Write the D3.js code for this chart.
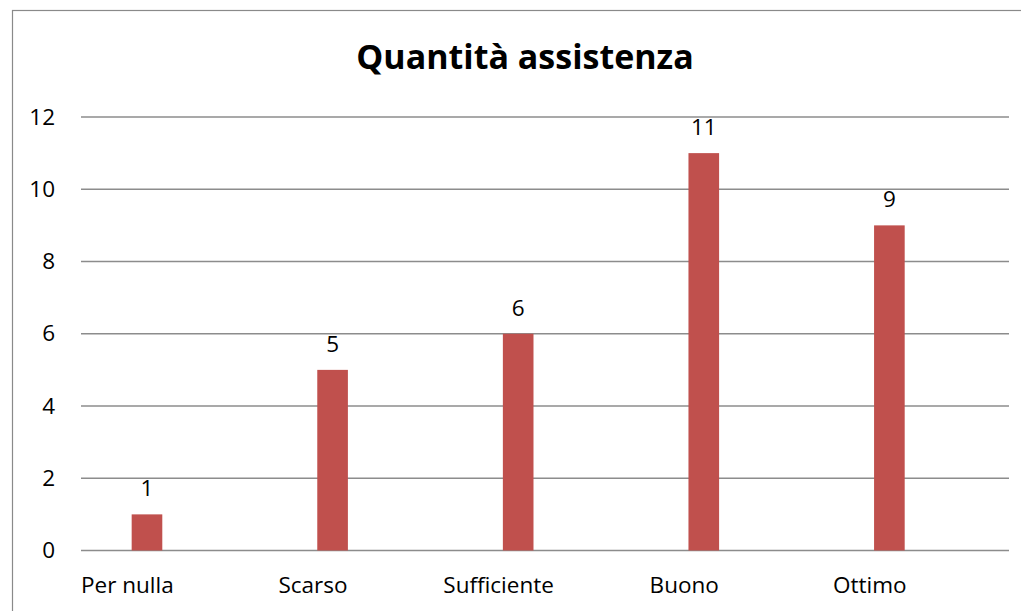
<!DOCTYPE html>
<html>
<head>
<meta charset="utf-8">
<script src="https://cdn.jsdelivr.net/npm/d3@7"></script>
<style>
    html, body { margin: 0; padding: 0; background: #fff; }
    svg { display: block; }
    text { font-family: "Open Sans", Lato, sans-serif; fill: #000; }
</style>
</head>
<body>
<svg class="chart"></svg>
<script>
// chart data
const title = 'Quantità assistenza'
const categories = ['Per nulla', 'Scarso', 'Sufficiente', 'Buono', 'Ottimo']
const values = [1, 5, 6, 11, 9]
const yTicks = [0, 2, 4, 6, 8, 10, 12]

const width = 1021
const height = 611
const fontSize = '22.5px'

const svg = d3.select('.chart')
    .attr('width', width)
    .attr('height', height)

// outer chart border (only left and top show inside the picture)
svg.append('rect')
    .attr('x', 12.5)
    .attr('y', 10.5)
    .attr('width', width + 20)
    .attr('height', height + 20)
    .attr('fill', 'none')
    .attr('stroke', '#8a8a8a')
    .attr('stroke-width', 1.2)

const x = d3.scaleBand()
    .domain(categories)
    .range([81, 1009])

const y = d3.scaleLinear()
    .domain([0, 12])
    .range([550.5, 117])

// title
svg.append('text')
    .attr('x', 525)
    .attr('y', 69)
    .attr('text-anchor', 'middle')
    .style('font-weight', 'bold')
    .style('font-size', '34px')
    .text(title)

// gridlines
svg.append('g')
    .selectAll('line')
    .data(yTicks)
    .enter()
    .append('line')
    .attr('x1', 81)
    .attr('x2', 1009)
    .attr('y1', d => y(d))
    .attr('y2', d => y(d))
    .attr('stroke', '#8c8c8c')
    .attr('stroke-width', 1.6)

// y axis labels
const yAxis = svg.append('g')
    .attr('transform', 'translate(81,0)')
    .call(d3.axisLeft(y).tickValues(yTicks).tickSize(0).tickPadding(26))

yAxis.select('.domain').remove()
yAxis.selectAll('text')
    .style('font-size', fontSize)
    .style('font-family', '"Open Sans", sans-serif')
    .attr('fill', '#000')

// bars (sit left of the band centre, as in the original)
const bw = x.bandwidth()

svg.append('g')
    .selectAll('rect')
    .data(values)
    .enter()
    .append('rect')
    .attr('x', (d, i) => x(categories[i]) + bw * 0.273)
    .attr('width', bw * 0.165)
    .attr('y', d => y(d))
    .attr('height', d => y(0) - y(d))
    .attr('fill', '#c0504d')

// value labels
svg.append('g')
    .selectAll('text')
    .data(values)
    .enter()
    .append('text')
    .attr('x', (d, i) => x(categories[i]) + bw * 0.3555)
    .attr('y', d => y(d) - 18)
    .attr('text-anchor', 'middle')
    .style('font-size', fontSize)
    .text(d => d)

// category labels
svg.append('g')
    .selectAll('text')
    .data(categories)
    .enter()
    .append('text')
    .attr('x', d => x(d) + bw * 0.25)
    .attr('y', 593)
    .attr('text-anchor', 'middle')
    .style('font-size', fontSize)
    .text(d => d)
</script>
</body>
</html>
